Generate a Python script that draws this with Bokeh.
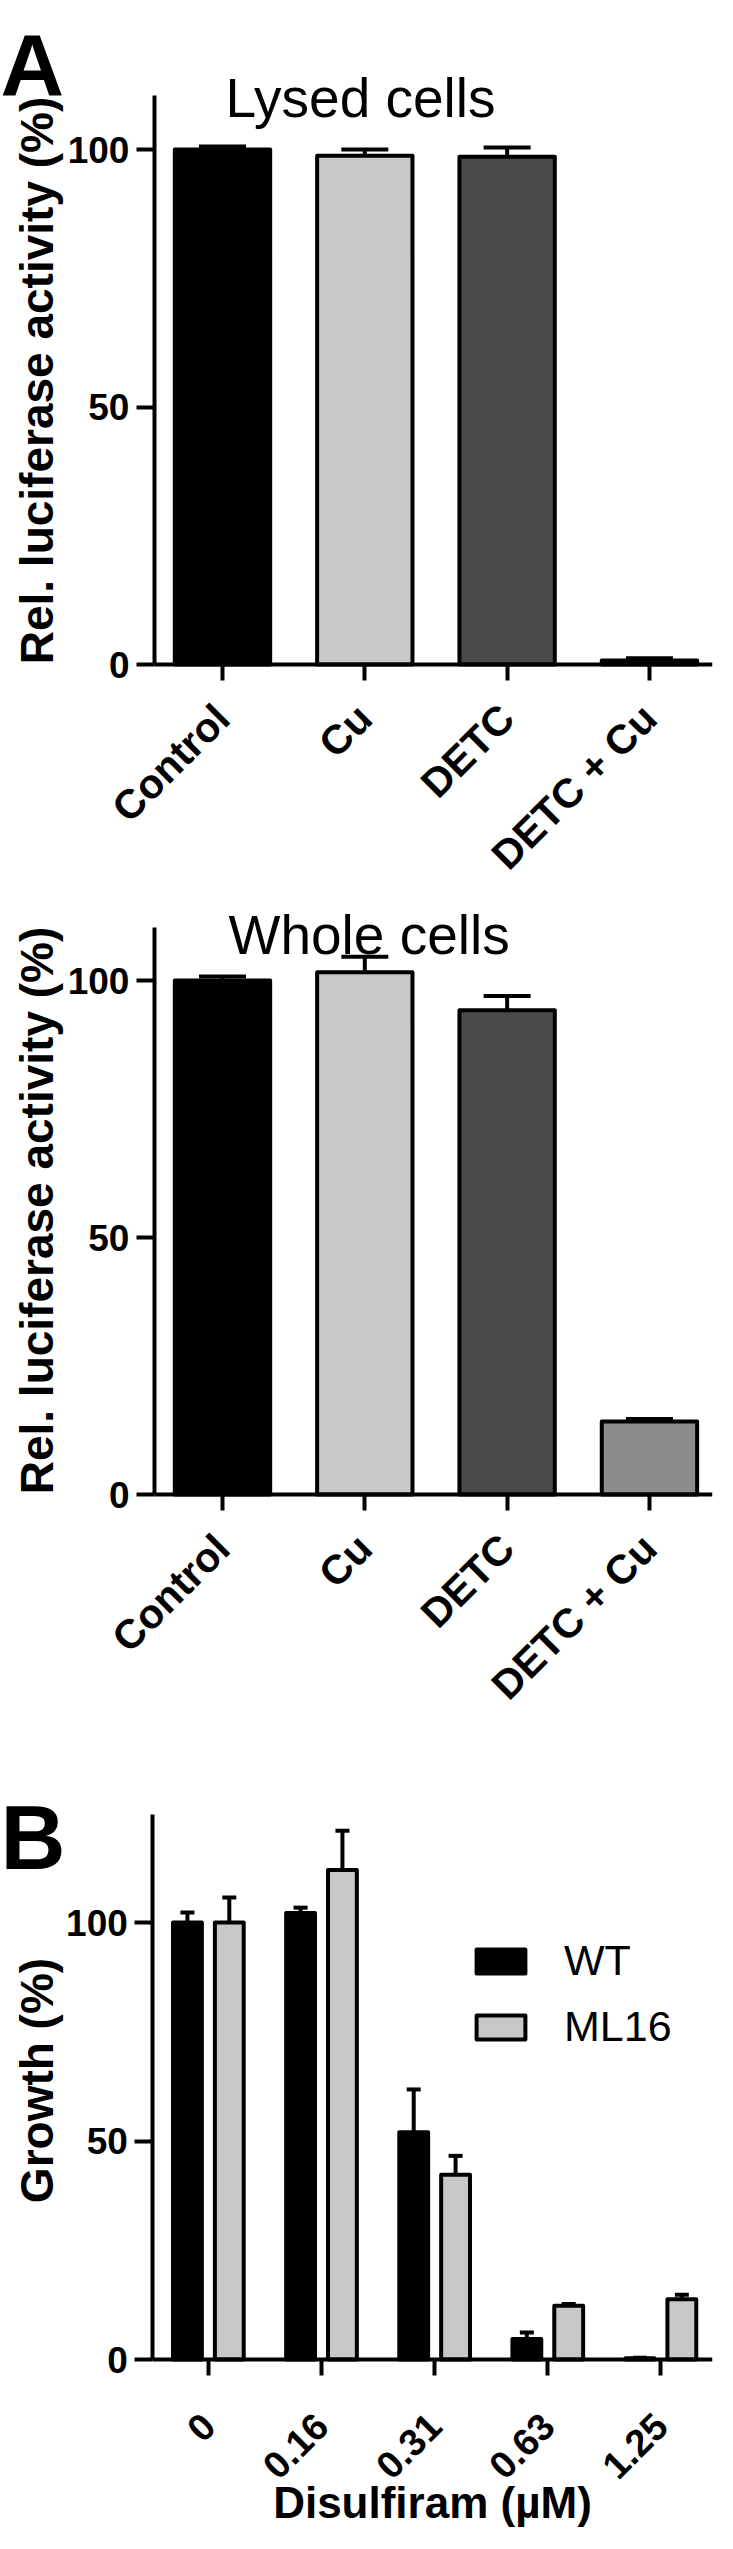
import numpy as np
from bokeh.plotting import figure
from bokeh.models import (ColumnDataSource, Range1d, FixedTicker, Whisker, TeeHead,
                          Label, Legend, LegendItem)
from bokeh.layouts import column, row
from bokeh.embed import file_html
from bokeh.resources import INLINE

FONT = "Liberation Sans"

# ---------------- data ----------------
treatments = ["Control", "Cu", "DETC", "DETC + Cu"]
treatment_colors = ["#000000", "#c8c8c8", "#4a4a4a", "#8c8c8c"]
lysed_mean = [100.0, 98.8, 98.6, 0.8]
lysed_sem = [0.6, 1.2, 1.8, 0.4]
whole_mean = [100.0, 101.6, 94.2, 14.2]
whole_sem = [0.8, 3.0, 2.8, 0.5]

doses = ["0", "0.16", "0.31", "0.63", "1.25"]
wt_mean = [100.0, 102.2, 52.0, 4.7, 0.3]
wt_sem = [2.3, 1.2, 9.8, 1.5, 0.1]
ml16_mean = [100.0, 112.0, 42.3, 12.3, 13.8]
ml16_sem = [5.7, 9.0, 4.3, 0.4, 1.0]

LEFT_W = 66
RIGHT_W = 717 - LEFT_W


def make_fig(height, below_px, px_per_unit, x_start, x_end, right_border):
    """Frame fills the whole canvas; both axes are pinned inside it."""
    return figure(width=RIGHT_W, height=height, x_range=Range1d(x_start, x_end),
                  y_range=Range1d(-below_px / px_per_unit,
                                  (height - below_px) / px_per_unit),
                  output_backend="svg", toolbar_location=None,
                  min_border_left=0, min_border_right=right_border,
                  min_border_top=0, min_border_bottom=0, title=None)


def style(p, ymax, x_axis_at, x_end):
    p.xgrid.visible = False
    p.ygrid.visible = False
    p.outline_line_color = None
    p.background_fill_color = "white"
    p.border_fill_color = "white"
    for ax in (p.xaxis[0], p.yaxis[0]):
        ax.axis_line_width = 4
        ax.axis_line_color = "black"
        ax.major_tick_line_width = 4
        ax.major_tick_line_color = "black"
        ax.minor_tick_line_color = None
        ax.major_tick_in = 0
        ax.major_label_text_font = FONT
        ax.major_label_text_font_style = "bold"
        ax.major_label_text_font_size = "37px"
        ax.major_label_text_color = "black"
    p.yaxis[0].major_tick_out = 18
    p.yaxis[0].major_label_standoff = 7
    p.yaxis[0].ticker = FixedTicker(ticks=[0, 50, 100])
    p.yaxis[0].bounds = (0, ymax)
    p.yaxis[0].fixed_location = x_axis_at
    p.xaxis[0].fixed_location = 0
    p.xaxis[0].bounds = (x_axis_at, x_end)
    p.xaxis[0].major_tick_out = 16
    p.xaxis[0].major_label_orientation = np.pi / 4


def add_text(p, text, x, y, size, bold=False, angle=0.0, align="left", units="screen"):
    p.add_layout(Label(x=x, y=y, x_units=units, y_units=units, text=text,
                       text_font=FONT, text_font_size=size,
                       text_font_style="bold" if bold else "normal",
                       text_color="black", angle=angle, text_align=align,
                       text_baseline="alphabetic"))


def panel_a(means, sems, height, below, px_per_unit, ymax, title, title_x, title_y):
    xs = list(range(len(treatments)))
    p = make_fig(height, below, px_per_unit, -1.096, 3.443, 5)
    src = ColumnDataSource(dict(x=xs, top=means, color=treatment_colors,
                                upper=[m + s for m, s in zip(means, sems)]))
    p.vbar(x="x", top="top", bottom=0, width=0.67, fill_color="color",
           line_color="black", line_width=4, line_join="round", source=src)
    p.add_layout(Whisker(source=src, base="x", lower="top", upper="upper",
                         dimension="height", line_width=4, line_color="black",
                         upper_head=TeeHead(size=47, line_width=4, line_color="black"),
                         lower_head=None))
    style(p, ymax, -0.478, 3.443)
    p.xaxis[0].ticker = FixedTicker(ticks=xs)
    p.xaxis[0].major_label_overrides = {i: t for i, t in enumerate(treatments)}
    p.xaxis[0].major_label_text_font_size = "41px"
    p.xaxis[0].major_label_standoff = 31
    add_text(p, title, title_x, below + title_y, "55px")
    return p


# heights of the three stacked figures and the pixels below each zero line
H1, BELOW1 = 882, 218
H2, BELOW2 = 840, 228
H3, BELOW3 = 811, 174

p1 = panel_a(lysed_mean, lysed_sem, H1, BELOW1, 5.15, 110.4, "Lysed cells", 159, 567)
p2 = panel_a(whole_mean, whole_sem, H2, BELOW2, 5.14, 110.3, "Whole cells", 162, 560)

# ---------------- panel B ----------------
p3 = make_fig(H3, BELOW3, 4.37, -1.254, 4.456, 0)
idx = np.arange(len(doses))
src_wt = ColumnDataSource(dict(x=idx - 0.185, top=wt_mean,
                               upper=[m + s for m, s in zip(wt_mean, wt_sem)]))
src_ml = ColumnDataSource(dict(x=idx + 0.185, top=ml16_mean,
                               upper=[m + s for m, s in zip(ml16_mean, ml16_sem)]))
r_wt = p3.vbar(x="x", top="top", bottom=0, width=0.255, fill_color="#000000",
               line_color="black", line_width=4, line_join="round", source=src_wt)
r_ml = p3.vbar(x="x", top="top", bottom=0, width=0.255, fill_color="#c8c8c8",
               line_color="black", line_width=4, line_join="round", source=src_ml)
for s in (src_wt, src_ml):
    p3.add_layout(Whisker(source=s, base="x", lower="top", upper="upper",
                          dimension="height", line_width=4, line_color="black",
                          upper_head=TeeHead(size=14, line_width=4, line_color="black"),
                          lower_head=None))
style(p3, 124.7, -0.491, 4.456)
p3.xaxis[0].ticker = FixedTicker(ticks=list(idx))
p3.xaxis[0].major_label_overrides = {int(i): d for i, d in zip(idx, doses)}
p3.xaxis[0].major_label_text_font_size = "38px"
p3.xaxis[0].major_label_standoff = 44
p3.xaxis[0].axis_label = "Disulfiram (µM)"
p3.xaxis[0].axis_label_text_font = FONT
p3.xaxis[0].axis_label_text_font_style = "bold"
p3.xaxis[0].axis_label_text_font_size = "44px"
p3.xaxis[0].axis_label_text_color = "black"
p3.xaxis[0].axis_label_standoff = -16

legend = Legend(items=[LegendItem(label="WT", renderers=[r_wt]),
                       LegendItem(label="ML16", renderers=[r_ml])],
                location=(404, BELOW3 + 308), orientation="vertical",
                glyph_width=61, glyph_height=30, label_height=30,
                label_text_font=FONT, label_text_font_size="43px",
                label_text_color="black",
                label_standoff=33, spacing=17, padding=0, margin=0,
                border_line_alpha=0, background_fill_alpha=0)
p3.add_layout(legend)

# ---------------- left strip: panel letters and y-axis titles ----------------
TOTAL_H = H1 + H2 + H3
left = figure(width=LEFT_W, height=TOTAL_H, x_range=Range1d(0, LEFT_W),
              y_range=Range1d(TOTAL_H, 0), output_backend="svg", toolbar_location=None,
              min_border=0, x_axis_location=None, y_axis_location=None, title=None)
left.grid.visible = False
left.outline_line_color = None
add_text(left, "A", 0, 64, "88px", bold=True, units="data")
add_text(left, "Rel. luciferase activity (%)", 36, 380, "46px", bold=True,
         angle=np.pi / 2, align="center", units="data")
add_text(left, "Rel. luciferase activity (%)", 36, 1210, "46px", bold=True,
         angle=np.pi / 2, align="center", units="data")
add_text(left, "B", 0, 1837, "90px", bold=True, units="data")
add_text(left, "Growth (%)", 36, 2080, "46px", bold=True,
         angle=np.pi / 2, align="center", units="data")

layout = row(left, column(p1, p2, p3))
open("out.html", "w").write(file_html(layout, INLINE))
